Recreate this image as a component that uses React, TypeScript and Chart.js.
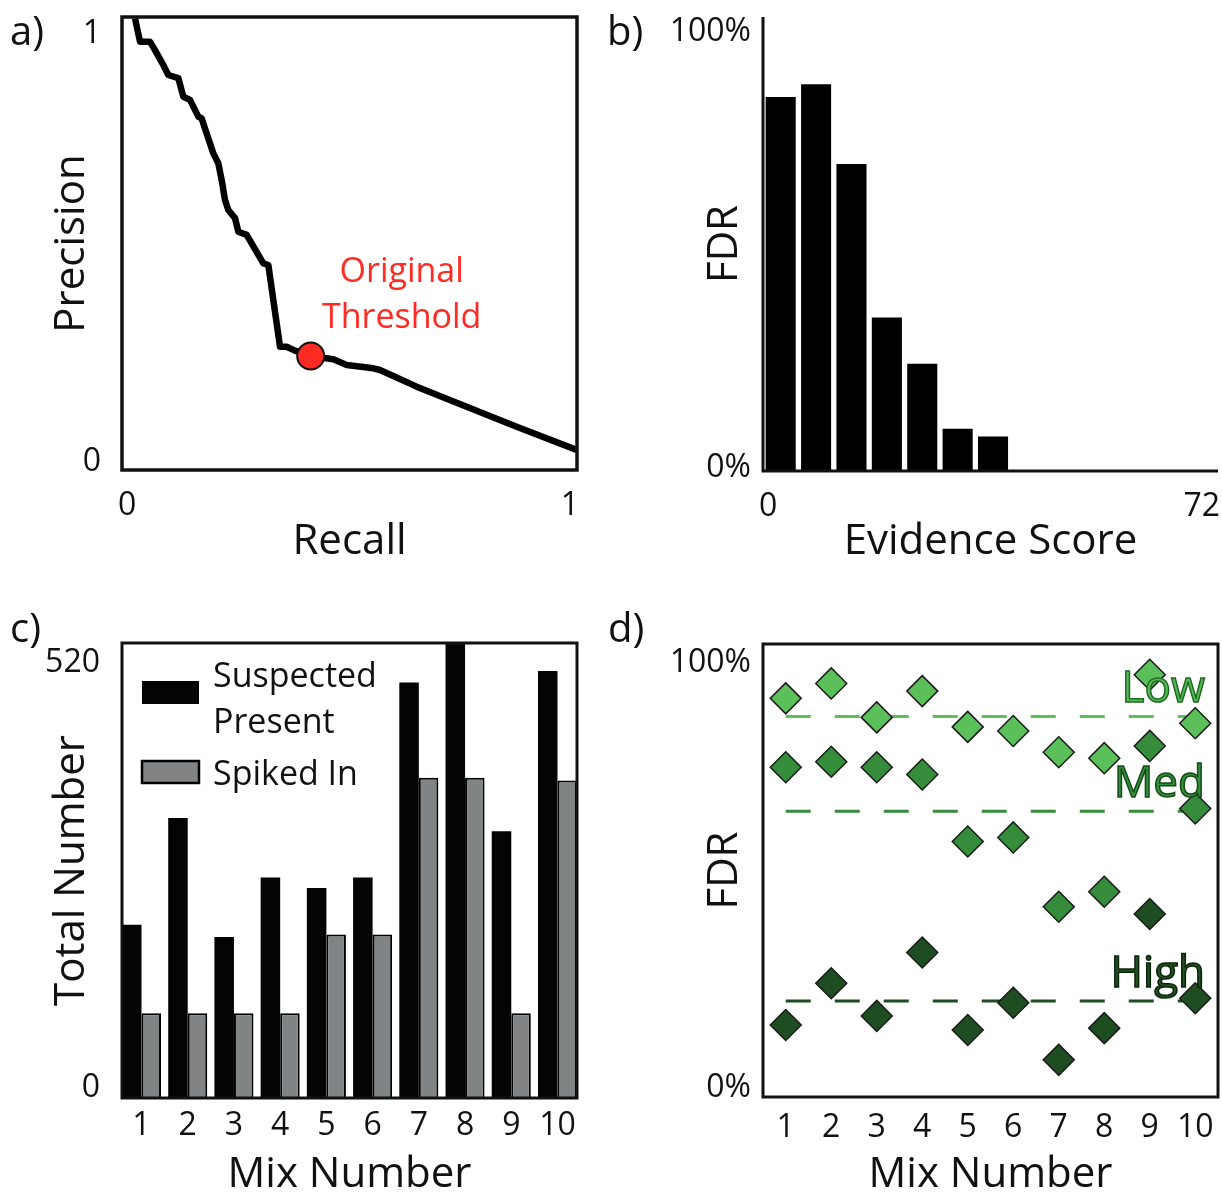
import React, { useEffect, useRef } from 'react';
import { Chart, registerables } from 'chart.js';

Chart.register(...registerables);

const FONT = '"Open Sans", "DejaVu Sans", sans-serif';
const INK = '#111111';

// ---------- Panel a: precision / recall ----------
const recall = [0.0286, 0.0396, 0.0615, 0.0725, 0.0908, 0.1018, 0.1238, 0.1348, 0.1495, 0.1678, 0.1751, 0.2007, 0.2117, 0.2191, 0.2264, 0.2337, 0.2484, 0.2557, 0.274, 0.3106, 0.3216, 0.3473, 0.362, 0.38, 0.4147, 0.4645, 0.4938, 0.5524, 0.567, 0.6476, 0.7575, 0.8674, 0.9993];
const precision = [0.997, 0.9455, 0.9455, 0.927, 0.894, 0.872, 0.865, 0.824, 0.817, 0.78, 0.776, 0.699, 0.677, 0.64, 0.596, 0.574, 0.556, 0.526, 0.519, 0.456, 0.4525, 0.272, 0.272, 0.2634, 0.2517, 0.2443, 0.2318, 0.2245, 0.2208, 0.184, 0.1398, 0.0956, 0.0442];
const thresholdRecall = 0.4147;
const thresholdPrecision = 0.2517;
const recallTicks = [0, 1];
const recallTickLabels = ['0', '1'];
const precisionTicks = [0, 1];
const precisionTickLabels = ['0', '1'];

// ---------- Panel b: FDR by evidence score ----------
const evidenceBinStart = [0, 5.6, 11.2, 16.8, 22.4, 28, 33.6];
const evidenceBinWidth = 5.6;
const fdrByScore = [82.4, 85.2, 67.6, 33.8, 23.6, 9.3, 7.6];
const evidenceTicks = [0, 72];
const evidenceTickLabels = ['0', '72'];
const fdrTicks = [0, 100];
const fdrTickLabels = ['0%', '100%'];

// ---------- Panel c: totals per mix ----------
const mixNumbers = ['1', '2', '3', '4', '5', '6', '7', '8', '9', '10'];
const suspectedPresent = [198, 320, 184, 252, 240, 252, 475, 530, 305, 488];
const spikedIn = [97, 97, 97, 97, 187, 187, 366, 366, 97, 363];
const totalTicks = [0, 520];
const totalTickLabels = ['0', '520'];

// ---------- Panel d: FDR per mix at three thresholds ----------
const mixX = [1, 2, 3, 4, 5, 6, 7, 8, 9, 10];
const fdrLow = [88.0, 91.3, 83.8, 89.6, 81.7, 80.8, 76.1, 74.8, 93.2, 82.5];
const fdrMed = [72.8, 74.0, 72.8, 71.2, 56.4, 57.3, 42.0, 45.3, 77.5, 63.7];
const fdrHigh = [15.9, 25.1, 17.9, 31.9, 14.8, 20.8, 8.2, 15.2, 40.4, 21.8];
const thresholdLow = 84.0;
const thresholdMed = 63.1;
const thresholdHigh = 21.2;
const levelNames = ['Low', 'Med', 'High'];

const LIGHT = '#5cc05a';
const MID = '#358d3b';
const DARK = '#1f4d22';

type TickSpec = { values: number[]; labels: string[] };
type Spec = {
  letter: string;
  letterX: number;
  box: 'full' | 'axes';
  borderWidth: number;
  yTicks: TickSpec & { gap: number; firstDy: number; lastDy: number };
  xTicks?: TickSpec & { dy: number };
  extra?: (chart: any) => void;
};

function makeDecor(spec: Spec) {
  return {
    id: 'decor',
    afterDatasetsDraw(chart: any) {
      const { ctx, chartArea: ca } = chart;
      ctx.save();
      ctx.strokeStyle = INK;
      ctx.lineWidth = spec.borderWidth;
      if (spec.box === 'full') {
        ctx.strokeRect(ca.left, ca.top, ca.right - ca.left, ca.bottom - ca.top);
      } else {
        ctx.beginPath();
        ctx.moveTo(ca.left, ca.top);
        ctx.lineTo(ca.left, ca.bottom);
        ctx.lineTo(ca.right, ca.bottom);
        ctx.stroke();
      }
      ctx.fillStyle = INK;
      ctx.font = `32px ${FONT}`;
      const ys = chart.scales.y;
      ctx.textAlign = 'right';
      ctx.textBaseline = 'middle';
      spec.yTicks.values.forEach((v, i) => {
        const p = ys.getPixelForValue(v);
        const dy = i === 0 ? spec.yTicks.firstDy : spec.yTicks.lastDy;
        ctx.fillText(spec.yTicks.labels[i], ca.left - spec.yTicks.gap, p + dy);
      });
      if (spec.xTicks) {
        const xs = chart.scales.x;
        spec.xTicks.values.forEach((v, i) => {
          const p = xs.getPixelForValue(v);
          const first = i === 0;
          ctx.textAlign = first ? 'left' : 'right';
          ctx.fillText(spec.xTicks!.labels[i], p + (first ? -4 : 2), ca.bottom + spec.xTicks!.dy);
        });
      }
      ctx.font = `40px ${FONT}`;
      ctx.textAlign = 'left';
      ctx.textBaseline = 'alphabetic';
      ctx.fillText(spec.letter, spec.letterX, 45);
      if (spec.extra) spec.extra(chart);
      ctx.restore();
    },
  };
}

function axisTitle(text: string, pad: { top: number; bottom: number }) {
  return {
    display: true,
    text,
    color: INK,
    font: { family: FONT, size: 42, lineHeight: 1 },
    padding: pad,
  };
}

const hidden = {
  grid: { display: false, drawTicks: false },
  border: { display: false },
  ticks: { display: false },
};

const fixHeight = (h: number) => (s: any) => {
  s.height = h;
  s.paddingLeft = 0;
  s.paddingRight = 0;
};
const fixWidth = (w: number) => (s: any) => {
  s.width = w;
  s.paddingTop = 0;
  s.paddingBottom = 0;
};

function layout(top: number, right: number) {
  return { autoPadding: false, padding: { left: 0, top, right, bottom: 0 } };
}

function configA(): any {
  return {
    type: 'scatter',
    data: {
      datasets: [
        {
          label: 'Original Threshold',
          data: [{ x: thresholdRecall, y: thresholdPrecision }],
          pointRadius: 13.5,
          pointBackgroundColor: '#ff2a22',
          pointBorderColor: INK,
          pointBorderWidth: 2,
        },
        {
          label: 'Precision',
          data: recall.map((r, i) => ({ x: r, y: precision[i] })),
          showLine: true,
          borderColor: '#000',
          borderWidth: 6.5,
          borderJoinStyle: 'round',
          tension: 0,
          pointRadius: 0,
        },
      ],
    },
    options: {
      animation: false,
      responsive: false,
      events: [],
      layout: layout(17, 23),
      plugins: { legend: { display: false }, tooltip: { enabled: false } },
      scales: {
        x: { type: 'linear', min: 0, max: 1, ...hidden, title: axisTitle('Recall', { top: 0, bottom: 34 }), afterFit: fixHeight(127) },
        y: { type: 'linear', min: 0, max: 1, ...hidden, title: axisTitle('Precision', { top: 51, bottom: 0 }), afterFit: fixWidth(122) },
      },
    },
    plugins: [
      makeDecor({
        letter: 'a)',
        letterX: 10,
        box: 'full',
        borderWidth: 3.5,
        yTicks: { values: precisionTicks, labels: precisionTickLabels, gap: 21, firstDy: -8, lastDy: 17 },
        xTicks: { values: recallTicks, labels: recallTickLabels, dy: 36 },
        extra: (chart: any) => {
          const { ctx } = chart;
          const px = chart.scales.x.getPixelForValue(thresholdRecall);
          const py = chart.scales.y.getPixelForValue(thresholdPrecision);
          ctx.fillStyle = '#ff2a22';
          ctx.font = `34px ${FONT}`;
          ctx.textAlign = 'center';
          ctx.textBaseline = 'alphabetic';
          ctx.fillText('Original', px + 91, py - 74);
          ctx.fillText('Threshold', px + 91, py - 28);
        },
      }),
    ],
  };
}

function configB(): any {
  return {
    type: 'bar',
    data: {
      datasets: [
        {
          label: 'FDR',
          data: evidenceBinStart.map((s, i) => ({ x: s + evidenceBinWidth / 2, y: fdrByScore[i] })),
          backgroundColor: '#000',
          borderWidth: 0,
          categoryPercentage: 0.85,
          barPercentage: 1,
        },
      ],
    },
    options: {
      animation: false,
      responsive: false,
      events: [],
      layout: layout(17, 4),
      plugins: { legend: { display: false }, tooltip: { enabled: false } },
      scales: {
        x: { type: 'linear', min: 0, max: 72, offset: false, ...hidden, title: axisTitle('Evidence Score', { top: 0, bottom: 34 }), afterFit: fixHeight(126) },
        y: { type: 'linear', min: 0, max: 100, ...hidden, title: axisTitle('FDR', { top: 104, bottom: 0 }), afterFit: fixWidth(163) },
      },
    },
    plugins: [
      makeDecor({
        letter: 'b)',
        letterX: 7,
        box: 'axes',
        borderWidth: 3,
        yTicks: { values: fdrTicks, labels: fdrTickLabels, gap: 12, firstDy: -3, lastDy: 15 },
        xTicks: { values: evidenceTicks, labels: evidenceTickLabels, dy: 36 },
      }),
    ],
  };
}

function configC(): any {
  const pos = mixNumbers.map((m) => Number(m));
  return {
    type: 'bar',
    data: {
      datasets: [
        {
          label: 'Suspected Present',
          data: pos.map((x, i) => ({ x, y: suspectedPresent[i] })),
          backgroundColor: '#040404',
          borderWidth: 0,
          categoryPercentage: 0.845,
          barPercentage: 1,
        },
        {
          label: 'Spiked In',
          data: pos.map((x, i) => ({ x, y: spikedIn[i] })),
          backgroundColor: '#808484',
          borderColor: '#000',
          borderWidth: 2,
          categoryPercentage: 0.845,
          barPercentage: 1,
        },
      ],
    },
    options: {
      animation: false,
      responsive: false,
      events: [],
      layout: layout(46, 23),
      plugins: { legend: { display: false }, tooltip: { enabled: false } },
      scales: {
        x: {
          type: 'linear',
          min: 0.578,
          max: 10.422,
          offset: false,
          grid: { display: false, drawTicks: false },
          border: { display: false },
          afterBuildTicks: (s: any) => { s.ticks = pos.map((v) => ({ value: v })); },
          ticks: {
            color: INK,
            font: { family: FONT, size: 32, lineHeight: 1 },
            padding: 12,
            maxRotation: 0,
            autoSkip: false,
            callback: (_v: any, i: number) => mixNumbers[i],
          },
          title: axisTitle('Mix Number', { top: 0, bottom: -3 }),
          afterFit: fixHeight(95),
        },
        y: { type: 'linear', min: 0, max: 520, ...hidden, title: axisTitle('Total Number', { top: 51, bottom: 0 }), afterFit: fixWidth(122) },
      },
    },
    plugins: [
      makeDecor({
        letter: 'c)',
        letterX: 10,
        box: 'full',
        borderWidth: 3,
        yTicks: { values: totalTicks, labels: totalTickLabels, gap: 22, firstDy: -10, lastDy: 20 },
        extra: (chart: any) => {
          const { ctx, chartArea: ca } = chart;
          const sx = ca.left + 20;
          ctx.fillStyle = '#040404';
          ctx.fillRect(sx, ca.top + 38, 57, 23);
          ctx.fillStyle = '#808484';
          ctx.fillRect(sx, ca.top + 118, 57, 22);
          ctx.strokeStyle = '#000';
          ctx.lineWidth = 2.5;
          ctx.strokeRect(sx, ca.top + 118, 57, 22);
          ctx.fillStyle = INK;
          ctx.font = `34px ${FONT}`;
          ctx.textAlign = 'left';
          ctx.textBaseline = 'alphabetic';
          const tx = ca.left + 91;
          ctx.fillText('Suspected', tx, ca.top + 44);
          ctx.fillText('Present', tx, ca.top + 90);
          ctx.fillText('Spiked In', tx, ca.top + 142);
        },
      }),
    ],
  };
}

function configD(): any {
  const diamonds = (label: string, ys: number[], color: string) => ({
    label,
    data: mixX.map((x, i) => ({ x, y: ys[i] })),
    pointStyle: 'rectRot',
    pointRadius: 15.5,
    pointBackgroundColor: color,
    pointBorderColor: '#1a1a1a',
    pointBorderWidth: 1.5,
    order: 1,
  });
  const dashed = (label: string, y: number, color: string) => ({
    label,
    data: [{ x: mixX[0], y }, { x: mixX[mixX.length - 1], y }],
    showLine: true,
    borderColor: color,
    borderWidth: 3,
    borderDash: [25, 24],
    pointRadius: 0,
    order: 2,
  });
  return {
    type: 'scatter',
    data: {
      datasets: [
        diamonds('Low', fdrLow, LIGHT),
        diamonds('Med', fdrMed, MID),
        diamonds('High', fdrHigh, DARK),
        dashed('Low threshold', thresholdLow, LIGHT),
        dashed('Med threshold', thresholdMed, MID),
        dashed('High threshold', thresholdHigh, DARK),
      ],
    },
    options: {
      animation: false,
      responsive: false,
      events: [],
      layout: layout(47, 4),
      plugins: { legend: { display: false }, tooltip: { enabled: false } },
      scales: {
        x: {
          type: 'linear',
          min: 0.5,
          max: 10.5,
          grid: { display: false, drawTicks: false },
          border: { display: false },
          afterBuildTicks: (s: any) => { s.ticks = mixX.map((v) => ({ value: v })); },
          ticks: { color: INK, font: { family: FONT, size: 32, lineHeight: 1 }, padding: 15, maxRotation: 0, autoSkip: false },
          title: axisTitle('Mix Number', { top: 0, bottom: -3 }),
          afterFit: fixHeight(96),
        },
        y: { type: 'linear', min: 0, max: 100, ...hidden, title: axisTitle('FDR', { top: 104, bottom: 0 }), afterFit: fixWidth(163) },
      },
    },
    plugins: [
      makeDecor({
        letter: 'd)',
        letterX: 8,
        box: 'full',
        borderWidth: 3,
        yTicks: { values: fdrTicks, labels: fdrTickLabels, gap: 12, firstDy: -9, lastDy: 19 },
        extra: (chart: any) => {
          const { ctx, chartArea: ca } = chart;
          const ys = chart.scales.y;
          const thr = [thresholdLow, thresholdMed, thresholdHigh];
          const fills = ['#58bd55', '#33903a', '#20521f'];
          const strokes = ['#1f6a22', '#154a18', '#0a200b'];
          ctx.font = `44px ${FONT}`;
          ctx.textAlign = 'right';
          ctx.textBaseline = 'alphabetic';
          ctx.lineWidth = 1.5;
          levelNames.forEach((name, i) => {
            const y = ys.getPixelForValue(thr[i]) - 14;
            ctx.fillStyle = fills[i];
            ctx.strokeStyle = strokes[i];
            ctx.fillText(name, ca.right - 13, y);
            ctx.strokeText(name, ca.right - 13, y);
          });
        },
      }),
    ],
  };
}

export default function App() {
  const a = useRef<HTMLCanvasElement>(null);
  const b = useRef<HTMLCanvasElement>(null);
  const c = useRef<HTMLCanvasElement>(null);
  const d = useRef<HTMLCanvasElement>(null);

  useEffect(() => {
    const charts = [
      new Chart(a.current!, configA()),
      new Chart(b.current!, configB()),
      new Chart(c.current!, configC()),
      new Chart(d.current!, configD()),
    ];
    return () => charts.forEach((ch) => ch.destroy());
  }, []);

  const cv = (left: number, top: number, w: number, h: number): React.CSSProperties => ({
    position: 'absolute', left, top, width: w, height: h,
  });

  return (
    <div style={{ position: 'absolute', left: 0, top: 0, width: 1222, height: 1193, background: '#fff', overflow: 'hidden' }}>
      <canvas ref={a} width={600} height={597} style={cv(0, 0, 600, 597)} />
      <canvas ref={b} width={622} height={597} style={cv(600, 0, 622, 597)} />
      <canvas ref={c} width={600} height={596} style={cv(0, 597, 600, 596)} />
      <canvas ref={d} width={622} height={596} style={cv(600, 597, 622, 596)} />
    </div>
  );
}
